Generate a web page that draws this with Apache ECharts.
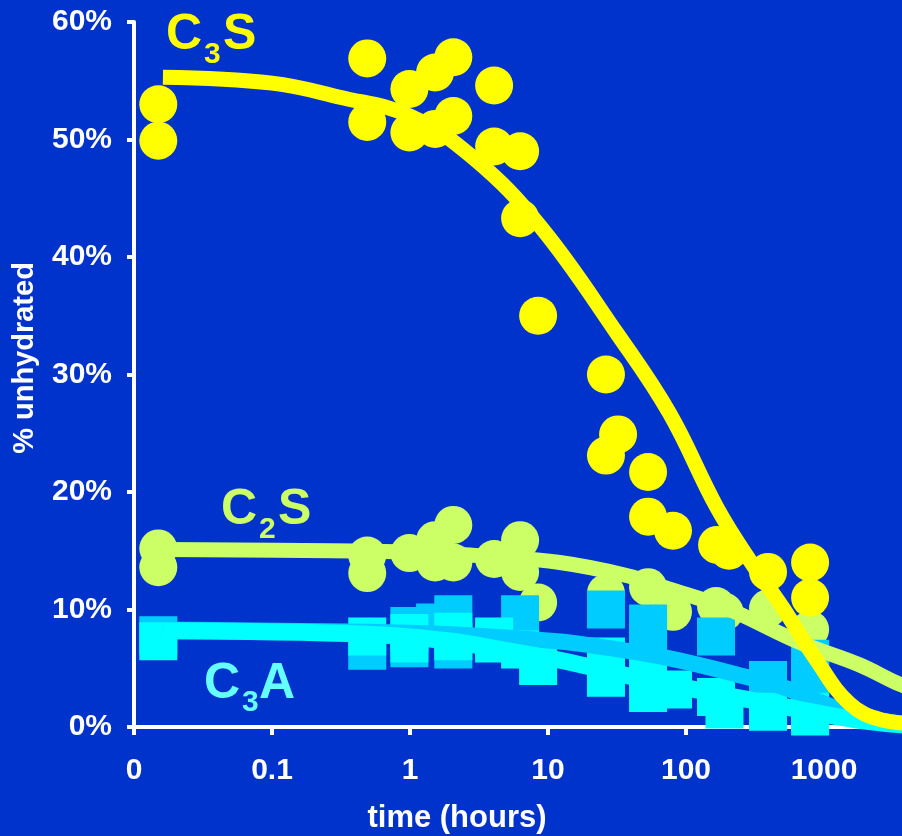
<!DOCTYPE html>
<html><head><meta charset="utf-8">
<script src="https://cdn.jsdelivr.net/npm/echarts@6/dist/echarts.min.js"></script>
<style>html,body{margin:0;padding:0;background:#0033cc}#c{width:902px;height:836px}</style>
</head><body><div id="c"></div>
<script>
// ---- data (time in hours, % unhydrated) ----
const xTickValues = [0.01, 0.1, 1, 10, 100, 1000];
const xTickLabels = ['0', '0.1', '1', '10', '100', '1000'];
const yTickValues = [0, 10, 20, 30, 40, 50, 60];

const c3sPoints = [
  [0.015, 53.0], [0.015, 49.9],
  [0.49, 56.9], [0.49, 51.5],
  [0.99, 54.3], [0.99, 50.6],
  [1.52, 55.7], [1.52, 50.9],
  [2.06, 57.0], [2.06, 52.0],
  [4.07, 54.6], [4.07, 49.4],
  [6.28, 49.0], [6.28, 43.3],
  [8.48, 35.0],
  [26.3, 30.0], [26.3, 23.1],
  [32.2, 24.9],
  [53.1, 21.7], [53.1, 17.9],
  [80.5, 16.7],
  [168, 15.5], [205, 15.0],
  [393, 13.2],
  [793, 14.0], [793, 11.0]
];
const c3sCurve = [
  [0.0162, 55.3], [0.1, 54.8], [0.31, 53.6], [1, 52.0], [2.9, 48.4],
  [8.8, 42.6], [31.6, 33.5], [76, 26.7], [167, 18.7], [289, 14.2],
  [500, 10.2], [880, 5.7], [1530, 2.0], [2630, 0.6], [5000, 0.3], [10000, 0.3]
];

const c2sPoints = [
  [0.015, 15.2], [0.015, 13.6],
  [0.49, 14.6], [0.49, 13.1],
  [0.99, 14.8],
  [1.52, 15.9], [1.52, 14.0],
  [2.06, 17.2], [2.06, 14.0],
  [4.07, 14.3],
  [6.28, 15.9], [6.28, 13.2],
  [8.48, 10.6],
  [26.3, 11.4],
  [53.1, 11.9],
  [80.5, 9.8],
  [165, 10.3], [190, 9.8],
  [393, 10.1],
  [793, 8.3]
];
const c2sCurve = [
  [0.016, 15.1], [0.27, 15.0], [1, 14.9], [4, 14.5], [12.2, 14.0],
  [37, 12.9], [73, 11.8], [197, 10.1], [665, 7.2], [1800, 5.3],
  [3600, 3.6], [10000, 1.6]
];

const c3aPointsA = [
  [0.015, 7.8],
  [0.49, 6.5],
  [0.99, 8.6], [0.99, 6.7],
  [1.52, 8.9],
  [2.06, 9.6], [2.06, 6.6],
  [6.28, 9.6],
  [26.3, 10.0],
  [53.1, 8.8], [53.1, 7.7],
  [165, 7.7],
  [393, 4.0],
  [793, 5.8], [793, 4.2]
];
const c3aCurveA = [
  [0.016, 8.3], [0.5, 8.1], [2, 7.9], [11.6, 7.3], [25, 6.8],
  [72, 5.9], [266, 4.3], [562, 3.2], [1100, 1.8], [2000, 0.8], [3600, 0.3], [10000, 0.1]
];

const c3aPointsB = [
  [0.015, 7.3],
  [0.49, 7.7],
  [0.99, 8.0], [0.99, 7.1],
  [2.06, 8.1], [2.06, 7.3],
  [4.07, 7.7], [4.07, 7.1],
  [6.28, 6.6],
  [8.48, 5.2],
  [26.3, 6.0], [26.3, 4.2],
  [53.1, 4.5], [53.1, 2.9],
  [80.5, 3.2],
  [165, 2.55], [190, 1.5],
  [393, 1.3],
  [793, 1.3], [793, 0.9]
];
const c3aCurveB = [
  [0.016, 8.2], [0.5, 7.9], [2, 7.3], [5, 6.5], [12, 5.7],
  [40, 4.3], [94, 3.4], [290, 2.3], [890, 1.2], [2000, 0.5], [3600, 0.2], [10000, 0.05]
];

// ---- chart ----
const FONT = 'Liberation Sans, Arial, Helvetica, sans-serif';
const chart = echarts.init(document.getElementById('c'), null, { renderer: 'canvas' });

function lbl(parts, color) {
  return parts.map(p => ({
    type: 'text', x: p[1], y: p[2], z: 100,
    style: {
      text: p[0], fill: color, font: 'bold ' + p[3] + 'px ' + FONT,
      textAlign: 'left', textVerticalAlign: 'middle'
    }
  }));
}

const option = {
  backgroundColor: '#0033cc',
  animation: false,
  grid: { left: 134, top: 22, width: 828, height: 705, containLabel: false, outerBoundsMode: 'none' },
  xAxis: {
    type: 'log', logBase: 10, min: 0.01, max: 10000, splitNumber: 6,
    axisLine: { show: true, lineStyle: { color: '#ffffff', width: 4 } },
    axisTick: { show: true, inside: false, length: 8, lineStyle: { color: '#ffffff', width: 4 } },
    axisLabel: {
      color: '#ffffff', fontSize: 30, fontWeight: 'bold', fontFamily: FONT, margin: 29,
      formatter: function (v) {
        for (let i = 0; i < xTickValues.length; i++) {
          if (Math.abs(Math.log10(v) - Math.log10(xTickValues[i])) < 1e-6) return xTickLabels[i];
        }
        return '';
      }
    },
    splitLine: { show: false }, minorTick: { show: false }
  },
  yAxis: {
    type: 'value', min: 0, max: 60, interval: 10,
    axisLine: { show: true, lineStyle: { color: '#ffffff', width: 4 } },
    axisTick: { show: true, inside: false, length: 7, lineStyle: { color: '#ffffff', width: 4 } },
    axisLabel: {
      color: '#ffffff', fontSize: 30, fontWeight: 'bold', fontFamily: FONT, margin: 22,
      formatter: '{value}%'
    },
    splitLine: { show: false }
  },
  graphic: [
    {
      type: 'text', x: 25, y: 358, rotation: Math.PI / 2, z: 100,
      style: { text: '% unhydrated', fill: '#ffffff', font: 'bold 29px ' + FONT, textAlign: 'center', textVerticalAlign: 'middle' }
    },
    {
      type: 'text', x: 457, y: 818, z: 100,
      style: { text: 'time (hours)', fill: '#ffffff', font: 'bold 31px ' + FONT, textAlign: 'center', textVerticalAlign: 'middle' }
    }
  ].concat(
    lbl([['C', 166, 35, 50], ['3', 204, 55, 30], ['S', 223, 35, 50]], '#ffff00'),
    lbl([['C', 221, 510, 50], ['2', 259, 530, 30], ['S', 278, 510, 50]], '#ccff66'),
    lbl([['C', 204, 684, 50], ['3', 242, 703, 30], ['A', 259, 684, 50]], '#66ffff')
  ),
  series: [
    { name: 'C2S pts', type: 'scatter', data: c2sPoints, symbol: 'circle', symbolSize: 38,
      itemStyle: { color: '#ccff66', opacity: 1 }, z: 2 },
    { name: 'C3A a pts', type: 'scatter', data: c3aPointsA, symbol: 'rect', symbolSize: 38,
      itemStyle: { color: '#00ccff', opacity: 1 }, z: 3 },
    { name: 'C3A b pts', type: 'scatter', data: c3aPointsB, symbol: 'rect', symbolSize: 38,
      itemStyle: { color: '#00ffff', opacity: 1 }, z: 4 },
    { name: 'C3A a fit', type: 'line', data: c3aCurveA, smooth: 0.4, showSymbol: false,
      lineStyle: { color: '#00ccff', width: 16 }, z: 5 },
    { name: 'C3A b fit', type: 'line', data: c3aCurveB, smooth: 0.4, showSymbol: false,
      lineStyle: { color: '#00ffff', width: 17 }, z: 6 },
    { name: 'C2S fit', type: 'line', data: c2sCurve, smooth: 0.4, showSymbol: false,
      lineStyle: { color: '#ccff66', width: 15 }, z: 7 },
    { name: 'C3S pts', type: 'scatter', data: c3sPoints, symbol: 'circle', symbolSize: 38,
      itemStyle: { color: '#ffff00', opacity: 1 }, z: 8 },
    { name: 'C3S fit', type: 'line', data: c3sCurve, smooth: 0.4, showSymbol: false,
      lineStyle: { color: '#ffff00', width: 15 }, z: 9 }
  ]
};
chart.setOption(option);
</script>
</body></html>
